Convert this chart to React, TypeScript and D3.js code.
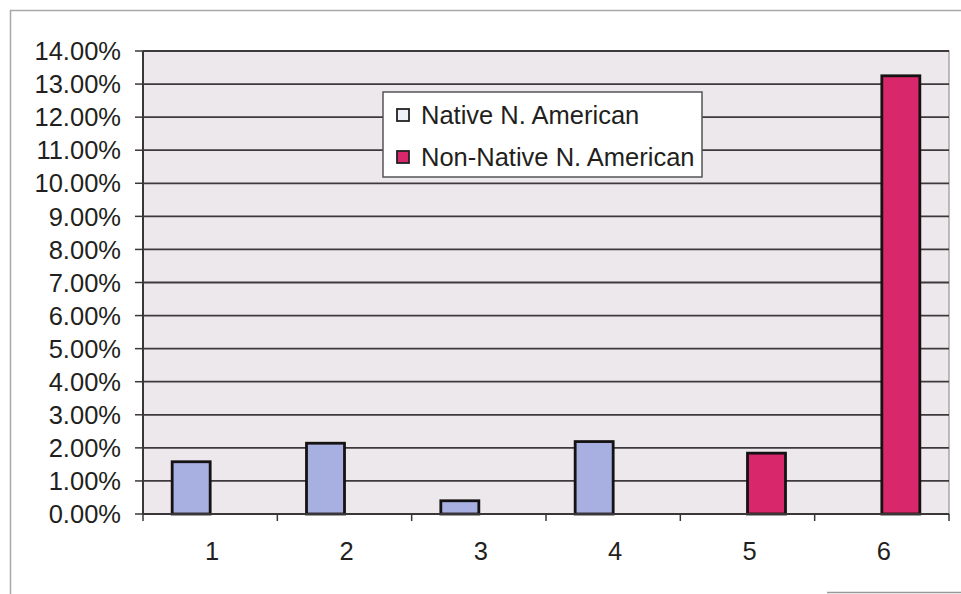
import * as d3 from 'd3';

const categories = ['1', '2', '3', '4', '5', '6'];
const nativeValues = [1.58, 2.14, 0.4, 2.19, null, null];
const nonNativeValues = [null, null, null, null, 1.84, 13.25];
const yTicks = [0, 1, 2, 3, 4, 5, 6, 7, 8, 9, 10, 11, 12, 13, 14];
const seriesNames = ['Native N. American', 'Non-Native N. American'];

const W = 961;
const H = 594;
const plot = { left: 143, right: 949, top: 51, bottom: 514 };
const font = '"Liberation Sans", Arial, sans-serif';
const colors = ['#a8b0e2', '#d8286b'];

export default function App() {
  const x = d3.scaleBand<string>().domain(categories).range([plot.left, plot.right]).padding(0);
  const y = d3.scaleLinear().domain([0, 14]).range([plot.bottom, plot.top]);
  const barW = 38;
  const series = [nativeValues, nonNativeValues];
  const fmt = (v: number) => `${v.toFixed(2)}%`;

  return (
    <svg width={W} height={H} style={{ position: 'absolute', top: 0, left: 0, background: '#fff' }}>
      {/* outer frame */}
      <path d={`M10.5,${H + 2} V10.5 H${W + 2}`} fill="none" stroke="#a8a8a8" strokeWidth={1.5} />
      <line x1={827} x2={W} y1={592.5} y2={592.5} stroke="#999" strokeWidth={1.5} />

      {/* plot area */}
      <rect x={plot.left} y={plot.top} width={plot.right - plot.left} height={plot.bottom - plot.top}
        fill="#ece8eb" stroke="#a9a9ad" strokeWidth={1.5} />

      {/* gridlines */}
      {yTicks.filter(t => t > 0).map(t => (
        <line key={t} x1={plot.left} x2={plot.right} y1={y(t)} y2={y(t)} stroke="#3e3a3c" strokeWidth={1.8} />
      ))}

      {/* bars */}
      {series.map((vals, si) =>
        vals.map((v, i) => {
          if (v == null) return null;
          const c = x(categories[i])! + x.bandwidth() / 2;
          const bx = si === 0 ? c - barW : c;
          return (
            <rect key={`${si}-${i}`} x={bx} y={y(v)} width={barW} height={y(0) - y(v)}
              fill={colors[si]} stroke="#151213" strokeWidth={2.8} />
          );
        })
      )}

      {/* y axis */}
      <line x1={plot.left} x2={plot.left} y1={plot.top} y2={plot.bottom} stroke="#3a3638" strokeWidth={2} />
      {yTicks.map(t => (
        <g key={t}>
          <line x1={plot.left - 8} x2={plot.left} y1={y(t)} y2={y(t)} stroke="#3a3638" strokeWidth={1.5} />
          <text x={121} y={y(t)} dy="0.36em" textAnchor="end" fontFamily={font} fontSize={25.5} fill="#231f20">
            {fmt(t)}
          </text>
        </g>
      ))}

      {/* x axis */}
      <line x1={plot.left} x2={plot.right} y1={plot.bottom} y2={plot.bottom} stroke="#3a3638" strokeWidth={2} />
      {categories.map((c, i) => (
        <g key={c}>
          <line x1={x(c)!} x2={x(c)!} y1={plot.bottom} y2={plot.bottom + 7} stroke="#3a3638" strokeWidth={1.5} />
          {i === categories.length - 1 && (
            <line x1={plot.right} x2={plot.right} y1={plot.bottom} y2={plot.bottom + 7} stroke="#3a3638" strokeWidth={1.5} />
          )}
          <text x={x(c)! + x.bandwidth() / 2 + 2} y={551} dy="0.36em" textAnchor="middle" fontFamily={font} fontSize={25.5} fill="#231f20">
            {c}
          </text>
        </g>
      ))}

      {/* legend */}
      <g>
        <rect x={383} y={92} width={319} height={85} fill="#fff" stroke="#555" strokeWidth={1.5} />
        {seriesNames.map((name, i) => (
          <g key={name} transform={`translate(397, ${115 + i * 42})`}>
            <rect x={0} y={-6} width={12} height={12} fill={i === 0 ? '#eef0fa' : colors[1]} stroke="#222" strokeWidth={1.8} />
            <text x={24} y={0} dy="0.36em" fontFamily={font} fontSize={25.5} fill="#231f20">{name}</text>
          </g>
        ))}
      </g>
    </svg>
  );
}
